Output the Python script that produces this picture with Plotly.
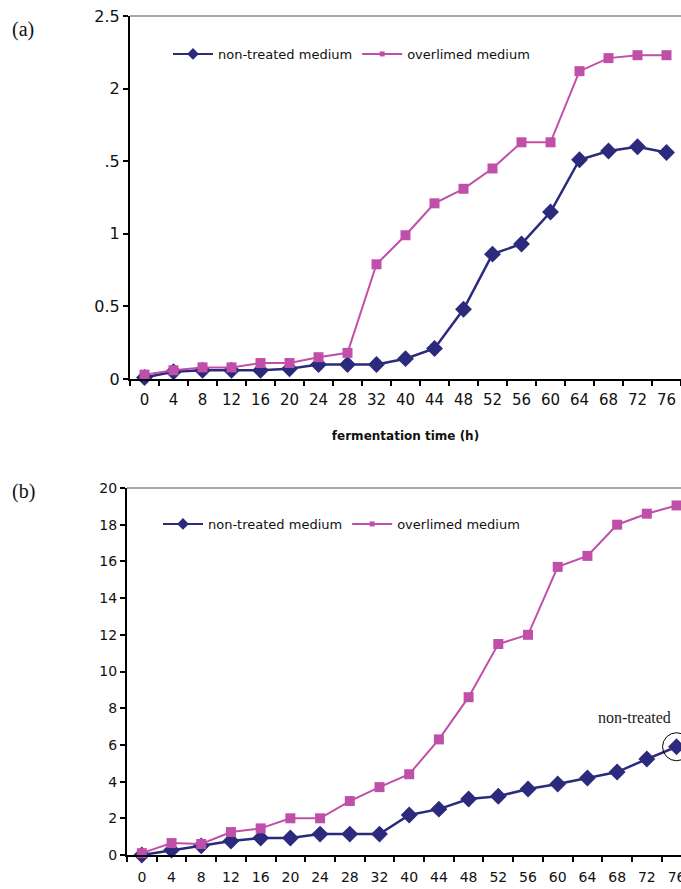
import plotly.graph_objects as go

times = ["0", "4", "8", "12", "16", "20", "24", "28", "32", "40",
         "44", "48", "52", "56", "60", "64", "68", "72", "76"]

# panel (a)
a_non_treated = [0.01, 0.05, 0.06, 0.06, 0.06, 0.07, 0.10, 0.10, 0.10, 0.14,
                 0.21, 0.48, 0.86, 0.93, 1.15, 1.51, 1.57, 1.60, 1.56]
a_overlimed = [0.03, 0.06, 0.08, 0.08, 0.11, 0.11, 0.15, 0.18, 0.79, 0.99,
               1.21, 1.31, 1.45, 1.63, 1.63, 2.12, 2.21, 2.23, 2.23]
a_ytickvals = [0, 0.5, 1, 1.5, 2, 2.5]
a_yticktext = ["0", "0.5", "1", ".5", "2", "2.5"]

# panel (b)
b_non_treated = [0.0, 0.27, 0.5, 0.76, 0.93, 0.93, 1.14, 1.14, 1.14, 2.18,
                 2.5, 3.05, 3.2, 3.6, 3.87, 4.2, 4.52, 5.23, 5.9]
b_overlimed = [0.1, 0.65, 0.6, 1.25, 1.45, 2.0, 2.0, 2.94, 3.7, 4.4,
               6.3, 8.6, 11.5, 12.0, 15.7, 16.3, 18.0, 18.6, 19.05]
b_ytickvals = [0, 2, 4, 6, 8, 10, 12, 14, 16, 18, 20]

names = ["non-treated medium", "overlimed medium"]
BLUE = "#2b2a7c"
PINK = "#c04fa9"
W, H = 681, 889
SANS = "DejaVu Sans"

fig = go.Figure()

def add_pair(xa, ya, leg, nt, ol):
    fig.add_trace(go.Scatter(
        x=times, y=nt, name=names[0], mode="lines+markers",
        xaxis=xa, yaxis=ya, showlegend=False, cliponaxis=False,
        line=dict(color=BLUE, width=2.5),
        marker=dict(symbol="diamond", size=13, color=BLUE)))
    fig.add_trace(go.Scatter(
        x=times, y=ol, name=names[1], mode="lines+markers",
        xaxis=xa, yaxis=ya, showlegend=False, cliponaxis=False,
        line=dict(color=PINK, width=2),
        marker=dict(symbol="square", size=10, color=PINK)))
    # legend entries (smaller symbols, as in the original legend)
    fig.add_trace(go.Scatter(
        x=[None], y=[None], name=names[0], mode="lines+markers",
        xaxis=xa, yaxis=ya, legend=leg,
        line=dict(color=BLUE, width=2),
        marker=dict(symbol="diamond", size=9, color=BLUE)))
    fig.add_trace(go.Scatter(
        x=[None], y=[None], name=names[1], mode="lines+markers",
        xaxis=xa, yaxis=ya, legend=leg,
        line=dict(color=PINK, width=2),
        marker=dict(symbol="square", size=5, color=PINK)))

add_pair("x", "y", "legend", a_non_treated, a_overlimed)
add_pair("x2", "y2", "legend2", b_non_treated, b_overlimed)

axis_common = dict(showline=True, linecolor="black", linewidth=2,
                   ticks="outside", ticklen=5, tickwidth=1.5, tickcolor="black",
                   showgrid=False, zeroline=False, automargin=False)

fig.update_layout(
    width=W, height=H, autosize=False,
    margin=dict(l=0, r=0, t=0, b=0, autoexpand=False),
    paper_bgcolor="white", plot_bgcolor="white",
    showlegend=True,
    xaxis=dict(domain=[130 / W, 1], anchor="y", type="category",
               range=[-0.5, 18.5], tickson="boundaries", ticklabelstandoff=6,
               tickfont=dict(family=SANS, size=15, color="#111"),
               title=dict(text="<b>fermentation time (h)</b>",
                          font=dict(family=SANS, size=12, color="#111"),
                          standoff=24),
               **axis_common),
    yaxis=dict(domain=[(H - 379) / H, (H - 16) / H], anchor="x",
               range=[0, 2.5], tickvals=a_ytickvals, ticktext=a_yticktext,
               tickfont=dict(family=SANS, size=16, color="#111"),
               **axis_common),
    xaxis2=dict(domain=[127 / W, 1], anchor="y2", type="category",
                range=[-0.5, 18.15], tickson="boundaries", ticklabelstandoff=8,
                tickfont=dict(family=SANS, size=14, color="#111"),
                **axis_common),
    yaxis2=dict(domain=[(H - 855) / H, (H - 488) / H], anchor="x2",
                range=[0, 20], tickvals=b_ytickvals,
                tickfont=dict(family=SANS, size=14, color="#111"),
                **axis_common),
    legend=dict(orientation="h", x=168 / W, y=1 - 54 / H, xanchor="left",
                yanchor="middle", bgcolor="rgba(0,0,0,0)",
                font=dict(family=SANS, size=13, color="#111"),
                itemwidth=40),
    legend2=dict(orientation="h", x=158 / W, y=1 - 524 / H, xanchor="left",
                 yanchor="middle", bgcolor="rgba(0,0,0,0)",
                 font=dict(family=SANS, size=13, color="#111"),
                 itemwidth=40),
)

# top border lines of each plot
for xr, yr in (("x domain", "y domain"), ("x2 domain", "y2 domain")):
    fig.add_shape(type="line", xref=xr, yref=yr, x0=0, x1=1, y0=1, y1=1,
                  line=dict(color="#8a8a8a", width=1.5))

# circle around the last non-treated point in (b)
last = len(times) - 1
fig.add_shape(type="circle", xref="x2", yref="y2",
              xsizemode="pixel", ysizemode="pixel",
              xanchor=last, yanchor=b_non_treated[last],
              x0=-14, x1=14, y0=-14, y1=14,
              line=dict(color="black", width=1))
fig.add_annotation(xref="x2", yref="y2", x=last, y=b_non_treated[last],
                   text="non-treated", showarrow=False, xshift=-42, yshift=29,
                   font=dict(family="Liberation Serif", size=16, color="#222"))

# panel labels
fig.add_annotation(xref="paper", yref="paper", x=10 / W, y=1 - 30 / H,
                   xanchor="left", yanchor="middle", text="(a)", showarrow=False,
                   font=dict(family="Liberation Serif", size=20, color="#111"))
fig.add_annotation(xref="paper", yref="paper", x=10 / W, y=1 - 492 / H,
                   xanchor="left", yanchor="middle", text="(b)", showarrow=False,
                   font=dict(family="Liberation Serif", size=20, color="#111"))

fig.write_html("out.html", config={"displayModeBar": False},
               post_script="document.body.style.margin='0';"
                           "document.body.style.overflow='hidden';")
